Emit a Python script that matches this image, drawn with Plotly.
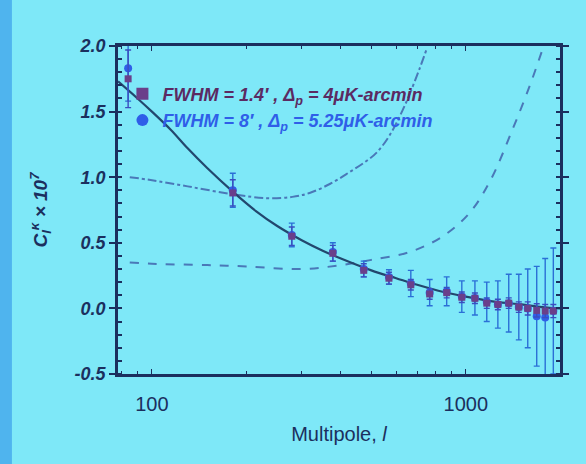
import plotly.graph_objects as go

# ---- data ----
ell_points = [84, 181, 279, 377, 473, 569, 668, 767, 869, 971, 1069, 1166, 1265, 1370, 1475, 1575, 1682, 1790, 1900]
cl_fwhm14 = [1.75, 0.88, 0.55, 0.42, 0.29, 0.23, 0.18, 0.11, 0.12, 0.085, 0.077, 0.04, 0.03, 0.04, 0.01, 0.0, -0.015, -0.02, -0.02]
err_fwhm14 = [0.22, 0.10, 0.07, 0.06, 0.05, 0.045, 0.04, 0.04, 0.04, 0.04, 0.04, 0.04, 0.04, 0.04, 0.04, 0.05, 0.05, 0.05, 0.05]
cl_fwhm8 = [1.83, 0.90, 0.56, 0.43, 0.30, 0.24, 0.19, 0.12, 0.13, 0.09, 0.08, 0.05, 0.03, 0.04, 0.01, 0.0, -0.06, -0.07, -0.02]
err_fwhm8 = [0.25, 0.13, 0.09, 0.07, 0.06, 0.055, 0.10, 0.10, 0.11, 0.12, 0.13, 0.15, 0.18, 0.22, 0.25, 0.30, 0.38, 0.45, 0.48]

ell_theory = [78, 90, 100, 115, 130, 150, 181, 215, 250, 300, 350, 400, 500, 600, 700, 850, 1000, 1250, 1500, 1750, 2000]
cl_theory = [1.73, 1.60, 1.50, 1.36, 1.22, 1.07, 0.89, 0.74, 0.63, 0.52, 0.44, 0.38, 0.29, 0.23, 0.18, 0.125, 0.09, 0.05, 0.03, 0.01, 0.0]

ell_noise14 = [85, 98, 130, 181, 232, 280, 318, 370, 427, 480, 521, 572, 640, 713, 751]
nl_noise14 = [1.0, 0.98, 0.93, 0.87, 0.84, 0.85, 0.88, 0.95, 1.04, 1.12, 1.19, 1.32, 1.55, 1.83, 1.98]

ell_noise8 = [85, 100, 150, 200, 300, 400, 500, 663, 845, 1030, 1200, 1412, 1600, 1758]
nl_noise8 = [0.35, 0.34, 0.33, 0.32, 0.30, 0.33, 0.37, 0.43, 0.55, 0.73, 0.98, 1.37, 1.70, 1.98]

y_ticks = [-0.5, 0.0, 0.5, 1.0, 1.5, 2.0]
x_ticks = [100, 1000]

navy = "#1b2f5e"
purple = "#5b2a62"
blue = "#2f5ee8"
dashcol = "#4a78b8"
bg = "#7ee8f8"

fig = go.Figure()

fig.add_trace(go.Scatter(x=ell_noise14, y=nl_noise14, mode="lines", showlegend=False,
                         line=dict(color=dashcol, width=2, dash="dashdot", shape="spline"), hoverinfo="skip"))
fig.add_trace(go.Scatter(x=ell_noise8, y=nl_noise8, mode="lines", showlegend=False,
                         line=dict(color=dashcol, width=2, dash="dash", shape="spline"), hoverinfo="skip"))
fig.add_trace(go.Scatter(x=ell_theory, y=cl_theory, mode="lines", showlegend=False,
                         line=dict(color="#22476e", width=2.2, shape="spline"), hoverinfo="skip"))

fig.add_trace(go.Scatter(
    x=ell_points, y=cl_fwhm8, mode="markers",
    name="<b><i><span style='color:%s'>FWHM = 8&#8242; , &#916;<sub>p</sub> = 5.25&#956;K-arcmin</span></i></b>" % blue,
    marker=dict(symbol="circle", size=8, color=blue),
    error_y=dict(type="data", array=err_fwhm8, color="#2b6fd6", thickness=1.4, width=3),
))
fig.add_trace(go.Scatter(
    x=ell_points, y=cl_fwhm14, mode="markers",
    name="<b><i><span style='color:%s'>FWHM = 1.4&#8242; , &#916;<sub>p</sub> = 4&#956;K-arcmin</span></i></b>" % purple,
    marker=dict(symbol="square", size=7, color="#6a3f8a"),
    error_y=dict(type="data", array=err_fwhm14, color="#3a4ec0", thickness=1.4, width=3),
))

fig.update_layout(
    width=586, height=464,
    margin=dict(l=118, r=26, t=46, b=90),
    paper_bgcolor=bg, plot_bgcolor=bg,
    font=dict(family="Liberation Sans, Arial, sans-serif", color=navy),
    legend=dict(x=0.01, y=0.91, xanchor="left", yanchor="top", traceorder="reversed",
                bgcolor="rgba(0,0,0,0)", font=dict(size=18), itemsizing="constant",
                tracegroupgap=0, itemwidth=30),
    shapes=[dict(type="rect", xref="paper", yref="paper", x0=-0.3, x1=-0.24, y0=-0.5, y1=1.5,
                 fillcolor="#4fb4ee", line=dict(width=0), layer="below")],
)

fig.update_xaxes(
    type="log", range=[1.892, 3.30],
    tickvals=x_ticks, ticktext=[str(v) for v in x_ticks],
    ticks="inside", ticklen=5, tickcolor=navy, tickfont=dict(size=20, color=navy),
    ticklabelstandoff=10,
    minor=dict(ticks="inside", ticklen=3, tickcolor=navy, dtick="D1"),
    showline=True, linecolor=navy, linewidth=2.5, mirror="ticks",
    showgrid=False, zeroline=False,
    title=dict(text="Multipole, <i>l</i>", font=dict(size=20, color=navy), standoff=14),
)
fig.update_yaxes(
    range=[-0.5, 2.0], tickvals=y_ticks, ticktext=["<b><i>%.1f</i></b>" % v for v in y_ticks],
    ticks="outside", ticklen=6, tickcolor=navy, tickwidth=1.5, tickfont=dict(size=18, color=navy),
    minor=dict(ticks="inside", ticklen=4, tickcolor=navy, dtick=0.1),
    showline=True, linecolor=navy, linewidth=2.5, mirror="ticks",
    showgrid=False, zeroline=False,
    title=dict(text="<b><i>C<sub>l</sub><sup>&#954;</sup> &#215; 10<sup>7</sup></i></b>",
               font=dict(size=19, color=navy), standoff=22),
)

fig.write_html("out.html")
